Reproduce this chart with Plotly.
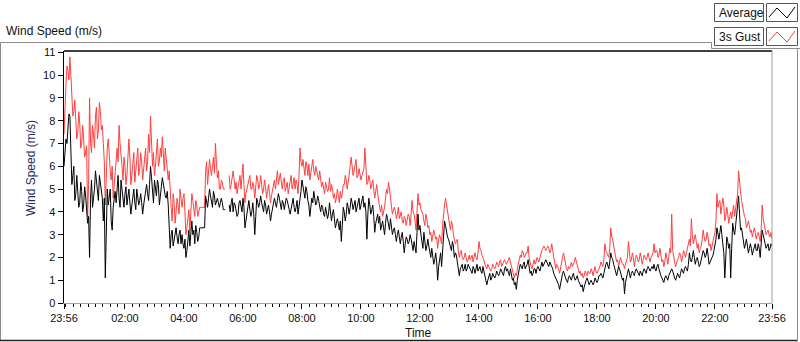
import plotly.graph_objects as go

# ---- data ----
# samples on the 4-minute grid starting at 23:56 (t = 0, 4, 8, ... 1440 min)
step_minutes = 4

average = [
    6.0, 7.2, 7.8, 8.2, 5.2, 6.0, 4.8, 5.0, 4.4, 4.9,
    4.3, 4.7, 3.5, 2.0, 5.4, 4.6, 5.8, 5.0, 5.6, 4.8,
    3.6, 1.1, 5.0, 4.6, 3.6, 4.2, 4.9, 5.2, 4.6, 5.4,
    4.5, 4.8, 4.3, 5.0, 3.9, 4.7, 4.4, 5.0, 4.3, 4.8,
    3.9, 4.6, 5.2, 4.5, 6.0, 4.8, 5.4, 4.7, 5.2, 4.6,
    5.5, 5.0, 4.6, 4.3, 2.4, 3.2, 2.8, 3.3, 2.6, 3.2,
    3.0, 2.4, 2.0, 2.8, 2.5, 3.6, 3.2, 3.4, 2.7, 3.3,
    3.3, 3.3, 4.7, 4.2, 5.0, 4.4, 4.9, 4.3, 4.6, 4.2,
    4.6, 4.1, 4.1, None, 4.3, 4.4, 4.0, 4.3, 3.8, 4.4,
    4.2, 4.6, 3.3, 4.0, 4.5, 3.8, 4.4, 3.0, 4.6, 4.2,
    4.7, 4.2, 4.5, 3.9, 4.3, 3.6, 4.1, 4.6, 4.2, 4.8,
    4.3, 4.5, 4.1, 4.6, 4.2, 3.9, 4.5, 4.2, 4.2, 3.9,
    4.6, 5.4, 4.8, 5.1, 4.5, 3.8, 4.6, 4.9, 4.3, 4.7,
    4.2, 4.3, 3.9, 4.2, 3.7, 4.4, 3.6, 4.1, 3.3, 3.7,
    3.2, 2.7, 4.2, 3.6, 4.4, 3.9, 4.6, 4.1, 4.5, 4.2,
    4.6, 4.3, 4.7, 4.4, 2.8, 4.6, 3.9, 4.3, 3.1, 3.8,
    3.5, 3.2, 3.6, 3.0, 3.9, 3.4, 3.7, 3.0, 3.3, 2.7,
    3.2, 2.6, 3.1, 2.2, 2.9, 2.6, 3.0, 2.5, 2.7, 2.2,
    3.9, 3.4, 2.7, 3.1, 2.3, 2.8, 2.1, 2.4, 1.7, 2.2,
    1.0, 1.9, 1.6, 3.0, 3.4, 2.9, 2.6, 2.3, 2.5, 2.2,
    1.8, 1.2, 1.6, 1.4, 1.7, 1.5, 1.6, 1.4, 1.6, 1.3,
    1.7, 1.5, 1.4, 1.6, 1.2, 0.8, 1.2, 1.0, 1.3, 1.1,
    1.4, 1.2, 1.5, 1.3, 1.5, 1.4, 1.3, 1.5, 1.0, 0.8,
    0.6, 1.4, 1.7, 1.5, 1.8, 1.6, 1.9, 1.3, 1.2, 1.5,
    1.3, 1.6, 1.4, 1.8, 1.7, 1.9, 1.7, 1.8, 1.6, 1.3,
    1.1, 0.9, 0.6, 1.2, 1.4, 1.1, 0.9, 1.2, 1.0, 1.3,
    1.0, 1.2, 0.9, 0.7, 0.5, 0.9, 1.1, 0.8, 1.0, 0.8,
    1.1, 0.9, 1.2, 1.3, 1.1, 1.6, 1.8, 1.5, 2.2, 1.9,
    1.5, 1.2, 1.6, 1.3, 1.0, 0.4, 1.2, 1.5, 1.1, 1.4,
    1.2, 1.5, 1.3, 1.4, 1.2, 1.5, 1.3, 1.6, 1.4, 1.6,
    1.7, 1.4, 1.7, 1.3, 1.1, 0.9, 1.2, 1.0, 1.3, 1.5,
    1.2, 1.0, 1.3, 1.1, 1.5, 1.3, 1.6, 1.4, 2.2, 1.8,
    2.3, 1.7, 2.0, 1.6, 1.9, 2.3, 2.0, 2.4, 1.7, 1.9,
    2.1, 2.5, 3.3, 2.8, 3.4, 2.7, 1.1, 2.9, 2.4, 1.1,
    3.5, 3.0, 3.8, 4.7, 3.2, 2.9, 2.4, 2.8, 2.2, 2.6,
    2.1, 2.5, 2.3, 2.6, 2.0, 3.2, 2.7, 2.4, 2.6, 2.4,
    2.5,
]

# samples half-way between (t = 2, 6, 10, ... 1438 min)
average_mid = [
    6.8, 7.0, 8.3, 6.1, 5.6, 4.5, 5.6, 4.2, 5.3, 4.0,
    5.1, 4.2, 3.8, 4.6, 4.2, 5.0, 5.3, 4.5, 5.2, 4.6,
    4.6, 3.8, 4.3, 5.0, 3.2, 4.5, 4.4, 5.6, 4.2, 5.0,
    4.2, 5.1, 4.7, 4.4, 4.3, 5.0, 4.1, 4.6, 4.5, 4.4,
    4.3, 4.9, 4.8, 5.2, 5.5, 4.4, 5.0, 5.4, 4.3, 5.1,
    5.2, 4.7, 4.9, 3.5, 3.0, 2.5, 3.0, 2.9, 3.0, 2.6,
    2.6, 2.8, 2.3, 3.2, 2.9, 3.0, 2.6, 3.1, 2.9, 3.3,
    3.3, 3.3, 4.4, 4.6, 4.7, 4.2, 4.7, 4.5, 4.4, 4.4,
    4.4, 4.1, None, None, 4.0, 4.6, 4.4, 4.1, 3.9, 4.5,
    4.0, 4.2, 3.6, 4.3, 4.1, 4.0, 3.9, 3.8, 4.4, 4.4,
    4.4, 4.0, 4.3, 4.1, 4.0, 3.9, 4.3, 4.4, 4.5, 4.6,
    4.1, 4.4, 4.3, 4.5, 4.1, 4.2, 4.6, 4.0, 4.5, 4.2,
    4.9, 5.1, 4.6, 4.9, 4.3, 4.3, 4.4, 4.6, 4.4, 4.5,
    4.0, 4.2, 3.8, 4.0, 3.9, 4.0, 3.9, 3.7, 3.5, 3.5,
    3.6, 3.4, 4.0, 3.9, 4.2, 4.2, 4.4, 4.3, 4.0, 4.4,
    4.1, 4.5, 4.2, 4.0, 3.9, 4.3, 4.1, 3.8, 3.5, 3.9,
    3.8, 3.4, 3.3, 3.5, 3.7, 3.2, 3.4, 3.2, 3.0, 3.0,
    2.9, 2.9, 2.7, 2.6, 2.8, 2.7, 2.8, 2.3, 2.5, 3.1,
    3.2, 3.0, 2.4, 2.8, 2.5, 2.5, 2.0, 2.1, 1.9, 1.8,
    1.6, 2.2, 2.4, 3.6, 3.1, 2.8, 2.5, 2.7, 2.0, 2.1,
    1.5, 1.5, 1.7, 1.5, 1.4, 1.7, 1.5, 1.3, 1.5, 1.5,
    1.4, 1.6, 1.3, 1.4, 1.1, 1.0, 1.3, 1.1, 1.2, 1.2,
    1.3, 1.3, 1.4, 1.2, 1.6, 1.5, 1.2, 1.3, 1.1, 0.9,
    1.0, 1.5, 1.6, 1.7, 1.5, 1.7, 1.6, 1.4, 1.3, 1.5,
    1.5, 1.5, 1.6, 1.6, 1.8, 1.8, 1.6, 1.7, 1.5, 1.2,
    1.0, 0.8, 0.9, 1.3, 1.2, 1.0, 1.1, 1.1, 1.2, 1.1,
    1.1, 1.0, 0.8, 0.8, 0.7, 1.0, 0.9, 0.9, 0.9, 0.9,
    1.0, 1.0, 1.2, 1.2, 1.3, 1.7, 1.6, 1.8, 2.0, 1.7,
    1.3, 1.4, 1.5, 1.2, 1.1, 0.9, 1.3, 1.3, 1.3, 1.3,
    1.4, 1.4, 1.2, 1.3, 1.4, 1.4, 1.5, 1.5, 1.5, 1.5,
    1.5, 1.6, 1.5, 1.2, 1.0, 1.1, 1.1, 1.2, 1.4, 1.4,
    1.1, 1.2, 1.2, 1.3, 1.4, 1.5, 1.5, 1.7, 1.9, 2.0,
    2.0, 1.9, 1.8, 1.7, 2.1, 2.2, 2.1, 2.1, 1.8, 2.0,
    2.3, 2.8, 3.0, 3.1, 3.0, 2.2, 2.0, 2.7, 2.6, 2.4,
    3.2, 3.4, 4.1, 3.9, 3.3, 2.7, 2.6, 2.5, 2.4, 2.4,
    2.3, 2.6, 2.3, 2.4, 2.6, 3.0, 2.6, 2.5, 2.3, 2.6,
]

gust = [
    7.4, 9.6, 10.2, 10.8, 9.0, 8.4, 8.0, 7.5, 7.9, 7.0,
    7.2, 6.6, 3.8, 9.0, 6.6, 7.4, 8.2, 7.2, 8.8, 7.6,
    7.0, 4.3, 6.8, 6.3, 5.4, 4.6, 6.0, 6.8, 7.8, 6.2,
    5.4, 6.0, 5.6, 7.2, 5.2, 6.0, 5.3, 6.2, 5.6, 6.6,
    5.4, 6.4, 5.8, 7.4, 8.2, 6.0, 5.6, 6.6, 6.0, 6.8,
    7.3, 5.8, 6.2, 5.4, 4.8, 3.6, 4.4, 4.0, 4.3, 5.0,
    4.2, 4.8, 3.0, 3.6, 3.2, 4.8, 4.2, 4.5, 3.8, 4.2,
    4.2, 4.2, 5.8, 5.2, 6.3, 5.6, 6.4, 7.0, 5.5, 5.0,
    5.4, 5.0, 5.0, None, 5.6, 5.2, 5.8, 5.0, 4.8, 5.4,
    5.0, 6.1, 4.4, 5.0, 5.5, 5.0, 5.3, 4.6, 5.6, 5.0,
    5.6, 4.8, 5.4, 4.6, 5.2, 4.4, 5.0, 5.4, 5.6, 5.2,
    5.7, 5.0, 5.5, 5.1, 4.8, 5.3, 5.0, 5.5, 5.4, 4.8,
    6.8, 6.0, 5.8, 6.2, 5.6, 5.4, 6.1, 5.8, 6.0, 5.5,
    5.8, 5.1, 5.0, 5.3, 4.9, 5.5, 5.2, 4.6, 4.4, 5.0,
    4.4, 4.6, 5.2, 5.6, 5.0, 5.8, 6.4, 5.6, 6.1, 5.5,
    5.9, 5.4, 5.8, 6.8, 5.2, 5.6, 5.0, 5.4, 4.6, 5.2,
    4.4, 4.0, 3.8, 4.2, 5.0, 5.3, 4.6, 3.9, 4.2, 3.7,
    4.2, 3.9, 3.6, 3.8, 3.4, 3.9, 3.4, 4.5, 3.9, 3.2,
    4.8, 4.4, 4.0, 3.6, 3.9, 3.3, 3.0, 2.7, 3.2, 2.8,
    2.4, 3.0, 2.6, 4.0, 4.6, 4.1, 3.4, 3.6, 3.0, 2.6,
    2.8, 2.0, 2.3, 1.9, 2.2, 1.8, 2.1, 2.0, 1.8, 2.2,
    1.9, 2.7, 2.3, 2.0, 1.7, 1.5, 1.6, 1.4, 1.7, 1.5,
    1.8, 1.6, 1.9, 1.7, 1.9, 1.7, 1.9, 1.8, 1.4, 1.1,
    1.2, 1.8, 2.1, 2.3, 2.0, 2.2, 2.5, 1.7, 1.5, 1.9,
    1.8, 1.9, 2.0, 2.3, 2.5, 2.3, 2.5, 2.2, 2.6, 2.0,
    1.5, 1.6, 1.3, 1.9, 2.2, 1.6, 1.4, 1.5, 1.8, 1.7,
    2.0, 1.6, 1.3, 1.2, 1.1, 1.4, 1.2, 1.3, 1.5, 1.2,
    1.6, 1.3, 1.5, 1.8, 1.6, 2.6, 2.2, 2.0, 3.3, 2.8,
    2.2, 1.8, 1.6, 2.0, 1.7, 1.5, 1.9, 2.7, 1.8, 2.2,
    1.6, 2.1, 1.8, 2.2, 1.7, 2.1, 1.9, 2.2, 1.8, 2.1,
    2.6, 2.3, 2.0, 2.4, 1.8, 1.6, 2.2, 1.7, 2.4, 3.9,
    1.9, 1.6, 1.9, 2.2, 1.8, 2.3, 2.0, 2.4, 2.8, 3.7,
    2.6, 3.0, 2.4, 2.2, 2.5, 3.2, 2.7, 3.1, 2.5, 2.3,
    2.8, 3.1, 4.8, 4.4, 3.9, 4.6, 3.6, 4.2, 3.5, 4.0,
    4.1, 3.8, 4.6, 5.8, 4.9, 4.2, 3.8, 3.3, 3.6, 3.1,
    2.9, 3.3, 2.8, 3.1, 2.7, 4.3, 3.4, 3.0, 3.2, 2.9,
    2.8,
]

gust_mid = [
    8.8, 10.4, 9.8, 10.0, 8.2, 8.9, 7.2, 8.4, 6.8, 7.8,
    6.4, 6.9, 5.2, 7.0, 7.8, 6.8, 8.6, 7.6, 8.4, 7.8,
    6.2, 6.0, 7.2, 5.8, 6.0, 5.2, 6.4, 6.2, 7.0, 6.0,
    6.4, 5.2, 6.2, 6.4, 5.6, 6.6, 5.8, 6.8, 5.9, 6.2,
    5.8, 6.8, 6.2, 6.6, 7.0, 6.6, 6.0, 7.2, 6.2, 6.4,
    6.5, 6.8, 5.8, 5.8, 4.2, 4.8, 3.5, 4.6, 3.9, 4.6,
    4.6, 4.0, 3.3, 4.1, 4.0, 4.5, 3.8, 4.3, 4.0, 4.2,
    4.2, 4.2, 6.2, 5.6, 5.9, 6.0, 5.7, 6.2, 5.8, 5.0,
    5.3, 5.0, None, None, 5.0, 5.5, 5.4, 5.3, 5.1, 5.6,
    5.6, 5.2, 4.8, 5.3, 5.6, 5.0, 5.1, 5.0, 5.4, 5.2,
    5.2, 5.0, 5.1, 4.9, 4.8, 4.7, 5.2, 5.0, 5.8, 5.4,
    5.3, 5.4, 4.9, 5.3, 5.1, 5.6, 5.2, 5.0, 5.2, 5.6,
    6.2, 6.3, 5.6, 6.0, 6.1, 5.7, 6.3, 5.6, 5.8, 5.4,
    5.4, 5.3, 4.8, 5.1, 5.0, 4.9, 5.0, 4.8, 4.6, 4.7,
    4.9, 4.8, 5.2, 5.4, 5.3, 6.0, 6.1, 5.8, 6.3, 5.6,
    5.7, 5.6, 5.9, 5.8, 5.3, 5.4, 5.2, 5.0, 4.9, 4.8,
    4.2, 4.3, 4.0, 4.6, 4.8, 5.0, 4.3, 4.1, 4.0, 3.9,
    3.7, 4.0, 3.5, 3.7, 3.6, 3.8, 3.9, 4.0, 3.6, 4.0,
    4.3, 4.1, 3.9, 3.4, 3.7, 3.4, 3.1, 2.9, 3.0, 2.9,
    2.8, 2.8, 3.4, 4.3, 4.3, 3.8, 3.2, 3.4, 2.8, 2.7,
    2.3, 2.2, 2.0, 2.0, 2.0, 1.9, 1.9, 2.1, 2.0, 2.0,
    2.2, 2.4, 2.1, 1.9, 1.6, 1.7, 1.5, 1.5, 1.6, 1.6,
    1.7, 1.8, 1.6, 1.8, 1.8, 1.8, 2.0, 1.6, 1.3, 1.3,
    1.5, 1.9, 2.0, 2.2, 2.1, 2.2, 2.0, 1.6, 1.7, 1.7,
    2.0, 1.8, 2.2, 2.4, 2.4, 2.4, 2.4, 2.3, 2.3, 1.8,
    1.7, 1.5, 1.6, 2.0, 1.9, 1.5, 1.6, 1.6, 1.6, 1.8,
    1.8, 1.5, 1.4, 1.3, 1.2, 1.3, 1.4, 1.3, 1.4, 1.4,
    1.4, 1.4, 1.6, 1.7, 1.9, 2.3, 2.1, 2.4, 2.9, 2.5,
    2.0, 1.9, 1.8, 1.8, 1.7, 1.7, 2.0, 2.0, 1.9, 2.0,
    1.9, 2.0, 1.9, 2.0, 1.9, 2.0, 2.0, 2.0, 2.0, 2.2,
    2.2, 2.3, 2.1, 2.1, 1.9, 1.8, 2.0, 2.0, 2.2, 2.3,
    1.8, 1.8, 2.0, 2.1, 2.0, 2.2, 2.2, 2.6, 2.5, 3.0,
    2.8, 2.7, 2.6, 2.4, 2.8, 2.9, 2.8, 2.9, 2.6, 2.5,
    2.9, 3.6, 4.2, 4.5, 4.2, 4.3, 3.8, 3.9, 3.8, 3.7,
    4.3, 4.1, 4.8, 5.1, 4.5, 4.0, 3.7, 3.4, 3.4, 3.2,
    3.1, 3.1, 3.0, 2.9, 3.2, 3.7, 3.2, 3.1, 3.0, 3.1,
]

tick_minutes = [0, 124, 244, 364, 484, 604, 724, 844, 964, 1084, 1204, 1324, 1440]
tick_labels = ["23:56", "02:00", "04:00", "06:00", "08:00", "10:00", "12:00",
               "14:00", "16:00", "18:00", "20:00", "22:00", "23:56"]
y_ticks = list(range(0, 12))


def interleave(main, mid):
    xs, ys = [], []
    for i, v in enumerate(main):
        xs.append(i * step_minutes)
        ys.append(v)
        if i < len(mid):
            xs.append(i * step_minutes + step_minutes / 2)
            ys.append(mid[i])
    return xs, ys


avg_x, avg_y = interleave(average, average_mid)
gust_x, gust_y = interleave(gust, gust_mid)

# ---- figure geometry helpers (pixel -> paper) ----
W, H = 800, 342
L, R, T, B = 64, 28, 51, 39
PW, PH = W - L - R, H - T - B


def px(x):
    return (x - L) / PW


def py(y):
    return (H - B - y) / PH


FONT = "Liberation Sans, Arial, sans-serif"

fig = go.Figure()
fig.add_trace(go.Scatter(x=gust_x, y=gust_y, mode="lines", name="3s Gust",
                         line=dict(color="#ff3f3f", width=1), connectgaps=False,
                         showlegend=False, hoverinfo="skip"))
fig.add_trace(go.Scatter(x=avg_x, y=avg_y, mode="lines", name="Average",
                         line=dict(color="#000000", width=1), connectgaps=False,
                         showlegend=False, hoverinfo="skip"))

shapes = []


def line(x0, y0, x1, y1, color, width=1):
    shapes.append(dict(type="line", xref="paper", yref="paper",
                       x0=px(x0), y0=py(y0), x1=px(x1), y1=py(y1),
                       line=dict(color=color, width=width), layer="above"))


# plot frame: top black, right grey
shapes.append(dict(type="line", xref="paper", yref="paper", x0=0, y0=1, x1=1, y1=1,
                   line=dict(color="#000000", width=1.5)))
shapes.append(dict(type="line", xref="paper", yref="paper", x0=1, y0=0, x1=1, y1=1,
                   line=dict(color="#a0a0a0", width=1)))

# outer panel border
line(0.5, 42.5, 711.5, 42.5, "#8c8c8c")
line(711.5, 42.5, 711.5, 48.5, "#8c8c8c")
line(711.5, 48.5, 800, 48.5, "#8c8c8c")
line(0.5, 42.5, 0.5, 340.5, "#8c8c8c")
line(0, 340.5, 798, 340.5, "#202020", 1.5)
line(797.5, 48.5, 797.5, 341, "#8c8c8c")

# legend boxes
for (y0, y1) in [(3.5, 21.5), (27.5, 45.5)]:
    for (x0, x1) in [(714.5, 763.5), (766.5, 797.5)]:
        shapes.append(dict(type="rect", xref="paper", yref="paper",
                           x0=px(x0), x1=px(x1), y0=py(y1), y1=py(y0),
                           line=dict(color="#555555", width=1), fillcolor="white"))

# legend samples
for off, col in [(0, "#000000"), (24, "#ff3f3f")]:
    pts = [(769, 17 + off), (777, 8 + off), (787, 18 + off), (795, 7 + off)]
    path = "M " + " L ".join(f"{px(a)},{py(b)}" for a, b in pts)
    shapes.append(dict(type="path", xref="paper", yref="paper", path=path,
                       line=dict(color=col, width=1)))

annotations = [
    dict(text="Wind Speed (m/s)", x=px(4), y=py(31), xref="paper", yref="paper",
         xanchor="left", yanchor="middle", showarrow=False,
         font=dict(family=FONT, size=12, color="#101010")),
    dict(text="Wind Speed (m/s)", x=px(31), y=py(168), xref="paper", yref="paper",
         xanchor="center", yanchor="middle", showarrow=False, textangle=-90,
         font=dict(family=FONT, size=12, color="#1e2a64")),
    dict(text="Time", x=px(418), y=py(333), xref="paper", yref="paper",
         xanchor="center", yanchor="middle", showarrow=False,
         font=dict(family=FONT, size=12, color="#101010")),
    dict(text="Average", x=px(717), y=py(12.5), xref="paper", yref="paper",
         xanchor="left", yanchor="middle", showarrow=False,
         font=dict(family=FONT, size=12, color="#101010")),
    dict(text="3s Gust", x=px(717), y=py(36.5), xref="paper", yref="paper",
         xanchor="left", yanchor="middle", showarrow=False,
         font=dict(family=FONT, size=12, color="#101010")),
]

fig.update_layout(
    width=W, height=H,
    margin=dict(l=L, r=R, t=T, b=B, pad=0),
    paper_bgcolor="white", plot_bgcolor="white",
    showlegend=False,
    shapes=shapes,
    annotations=annotations,
    xaxis=dict(range=[0, 1440], tickmode="array", tickvals=tick_minutes, ticktext=tick_labels,
               ticks="outside", ticklen=5, tickwidth=1, tickcolor="#000000",
               showline=True, linecolor="#a0a0a0", linewidth=1,
               showgrid=False, zeroline=False,
               tickfont=dict(family=FONT, size=11, color="#101010"),
               minor=dict(ticks="outside", ticklen=3, tickwidth=1, tickcolor="#000000",
                          tickmode="linear", tick0=4, dtick=15, showgrid=False)),
    yaxis=dict(range=[0, 11.06], tickmode="array", tickvals=y_ticks,
               ticks="outside", ticklen=5, tickwidth=1, tickcolor="#000000",
               showline=True, linecolor="#000000", linewidth=1.5,
               showgrid=False, zeroline=False,
               tickfont=dict(family=FONT, size=11, color="#101010")),
)

fig.write_html("out.html", config={"displayModeBar": False, "staticPlot": True},
               post_script="document.body.style.margin='0';document.body.style.overflow='hidden';")
